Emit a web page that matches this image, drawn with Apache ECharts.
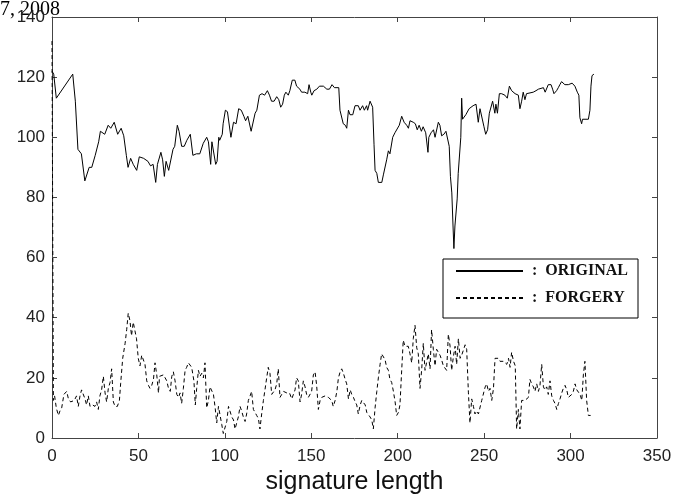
<!DOCTYPE html>
<html>
<head>
<meta charset="utf-8">
<script src="https://cdn.jsdelivr.net/npm/echarts@6/dist/echarts.min.js"></script>
<style>
  html, body { margin: 0; padding: 0; background: #fff; }
  #main { width: 687px; height: 497px; }
</style>
</head>
<body>
<div id="main"></div>
<script>
// values, [signature position, value]
var originalPts = [[0,122],[1,121],[2.5,113],[12,121],[13.5,112],[15,96],[17,94.5],[19,85.5],[20,85.5],[21.5,90],[23,90],[25,94],[27,98.5],[28,102],[30.5,101],[32.5,104],[34,103],[36,105],[38,101],[40,103],[41.5,100.5],[43,94],[44,90],[45.5,93],[47,91],[49,89],[50.5,93.5],[53,93],[55.5,92],[57,90.5],[58.5,91],[60,85],[61,91],[63,95],[64,92.5],[65,87],[66,92],[67.5,89],[68.5,89],[70,96],[71,97],[72.5,104],[73.5,102],[75,97],[76.5,97],[78,99],[80,101],[81.5,94],[83.5,94.5],[85.5,94.5],[86.5,94],[87.5,98],[89.5,100],[90.5,98.5],[91.8,91],[92.5,98.5],[93.5,98.5],[94.7,91],[95.5,92],[96.5,100],[97,99],[98.5,101],[99,104.5],[100.3,109],[101.5,108.5],[103.5,100],[105,105],[106.5,104.5],[108,109.5],[109.5,109],[111,107],[112,105.5],[113.3,107],[114,107],[115.2,102],[116.2,102.5],[117.5,108],[118.5,109],[120,114],[121.5,114.5],[123,114],[124.6,115.5],[125.8,114],[127,112],[128.5,112],[130,113.5],[131.2,112.5],[132.3,110],[133.4,111],[134.4,114],[135.3,115],[136.7,114],[137.6,115.5],[139,119],[140.5,119],[141.5,117],[143.4,116],[144.4,115],[146.3,115],[147.9,114.5],[148.7,117.5],[149.7,115],[150.3,114],[151.6,115.5],[153.2,116],[154.7,117],[157,117],[159,116],[160.5,116],[162,117.5],[163.4,116.5],[165.9,116.5],[166.6,109],[167.6,108.5],[168.5,104.5],[169.7,104],[170.5,103],[171.5,109],[172.4,107.5],[174,107.5],[175.3,110.5],[177.2,110.5],[178.2,109],[179.7,110.5],[180.7,109],[182,110.5],[182.6,109],[184,112],[185.5,110],[186.3,97.5],[186.9,89],[187.9,88],[188.8,85],[190.8,85],[191.7,87.5],[192.6,88],[193.6,92.5],[194.6,95.5],[195.5,94.5],[197.1,100],[198.4,101.5],[199.4,102],[200.9,104],[202.3,107],[203.7,105],[205.2,104],[206.2,103],[207.1,105.5],[209,105],[210.2,104.5],[211.3,102.5],[212.4,104],[213.7,102],[214.7,103.5],[216.2,101.5],[217,101.5],[217.5,95],[218,100],[219.3,101.5],[220.7,102.5],[221.6,100],[223.5,105],[224.4,104],[225.4,100.5],[226.7,101],[227.9,102],[228.8,101.5],[229.8,97],[230.5,87],[231.3,81.5],[232,70.5],[232.5,63],[233.1,70.5],[234,71],[234.4,79.5],[235,88],[236,88],[236.5,100],[237,113],[237.5,106],[238.4,106.5],[239.4,107.5],[241.3,109.5],[243.6,110.5],[245.3,111],[246.6,105],[247.6,109.5],[248.6,109],[249.9,103.5],[250.9,101],[252,102.5],[253,108],[253.9,108.5],[254.9,112],[256.2,108],[256.8,111],[257.7,108],[258.8,114.5],[260.1,114.5],[262,114],[263.4,113],[264.6,117],[265.9,115.5],[266.9,115],[267.9,114.5],[268.8,115],[269.8,114],[270.7,109.5],[271.7,112],[272.6,115],[273.6,112.5],[274.5,114.5],[275.5,115],[278.4,115],[280,115.5],[281.4,116],[282.3,116.5],[284.3,116.5],[285.3,115],[286.2,114.5],[287.1,117.5],[288.7,117.5],[289.6,116],[290.4,114.5],[291.9,115.5],[292.9,116.5],[293.8,117.5],[294.8,118.5],[295.8,119],[296.7,117.5],[297.7,117],[298.7,117.5],[299.6,117],[300.9,118],[302.5,117],[303.9,115],[304.8,114],[305.4,106.5],[306.4,104.5],[306.9,106],[310.3,106],[311.2,109],[311.8,117],[312.4,120.5],[313.5,121]];

var forgeryPts = [[0,132],[0.8,12.5],[1.5,14],[2.5,10],[3.7,7.5],[4.6,9],[5.6,10],[6.9,14.5],[8.5,15.5],[9.5,13],[10.8,12],[11.9,11.5],[12.9,12.5],[14.2,14],[15.2,10.5],[16.2,14],[17.1,16],[18.1,16.5],[19.1,13],[20,11],[21,14],[22,10.5],[23.5,11],[24.8,10.5],[25.8,12],[26.8,9.5],[27.7,14],[28.7,16],[29.7,20.5],[30.7,15],[31.6,12],[32.6,16.5],[33.6,18.5],[34.5,23],[35.5,12],[36.5,10.5],[37.8,10.5],[39,12.5],[39.7,18],[40.9,26.5],[42.3,31.5],[43.2,36],[44.1,41.5],[45.1,39],[46,34],[47,38.5],[48,38],[48.9,33],[49.9,26.5],[50.9,24],[51.9,27.5],[52.9,27.5],[53.8,24.5],[54.8,19],[55.8,17.5],[56.7,16.5],[57.7,17.5],[58.7,19.5],[59.6,25],[60.6,21],[61.6,15],[62.2,20.5],[63.2,20],[64.5,21],[65.5,21.5],[66.4,19],[67.4,16.5],[68.4,15.5],[69.3,20.5],[70.2,22],[71.2,19],[72.2,14.5],[73.2,13.5],[74.1,15],[75,11.5],[76,16.5],[77,22.5],[77.9,23.5],[78.9,25],[79.8,25],[80.8,23.5],[82.1,19],[82.9,11],[83.7,16.5],[84.7,22.5],[85.6,20.5],[86.6,21.5],[87.6,20],[88.5,25],[89.5,10],[90.5,12.5],[91.4,17],[92.4,17.5],[93.4,14.5],[94.4,10],[95.3,5],[96.3,10.5],[97.3,10],[98.2,4.5],[99.1,1.5],[100.2,1],[101.1,5.5],[102.1,10.5],[103,10.5],[104,7],[105,6],[105.9,3],[106.8,3],[107.8,7],[108.8,10.5],[109.7,9],[110.7,7],[111.7,5.5],[112.6,8],[113.6,12.5],[114.6,14],[115.5,15.5],[116.5,9.5],[117.5,8.5],[118.4,7.5],[119.4,6.5],[120.3,3],[121.3,8],[122.3,12.5],[123.2,16],[124.2,20],[125.1,23.5],[126.1,21.5],[127.1,14.5],[128,14],[129,16],[130,18],[130.9,23],[131.9,13.5],[132.9,14.5],[133.9,15.5],[134.8,15],[135.8,15],[137.4,15],[138.7,13],[139.6,13],[140.6,16],[141.5,20],[142.5,19],[143.5,12],[144.4,14.5],[145.4,19],[146.4,17],[147.3,14.5],[148.3,13.5],[149.3,13],[150.2,15.5],[151.2,21],[152.2,22],[153.1,17.5],[154.1,9.5],[155.1,12.5],[156,13.5],[157,13.5],[158,14],[159,13.5],[159.9,13.5],[160.9,13],[161.8,12.5],[162.7,10.5],[163.8,12.5],[164.8,15.5],[165.7,20],[166.7,22],[167.6,23],[168.6,21.5],[169.6,19.5],[170.5,18],[171.5,13],[172.5,16],[173.4,14.5],[174.4,13.5],[175.4,12],[176.3,11],[177.2,8],[178.3,11],[179.2,12.5],[180.2,12],[181.2,11],[182.1,8.5],[183.1,8],[184,7],[185,6],[185.9,3],[186.9,10],[187.9,15.5],[188.8,20],[189.8,24.5],[190.7,28],[191.7,27.5],[192.7,26],[193.6,23.5],[194.6,22.5],[195.5,19.5],[196.5,18.5],[197.5,15.5],[198.5,12],[199.4,7.5],[200.4,8.5],[201.3,11],[202.3,22.5],[203.2,32.5],[204.2,30.5],[205.2,30],[206.1,30.5],[207.1,28],[208.1,25],[209,33],[210,37.5],[211,30],[211.9,28],[212.9,16.5],[213.9,23],[214.8,31.5],[215.8,22.5],[216.8,22],[217.7,28],[218.7,23],[219.6,36],[220.6,29.5],[221.6,24],[222.5,29.5],[223.5,28.5],[224.5,27.5],[225.4,26],[226.4,24],[227.4,23.5],[228.3,22.5],[229.3,34.5],[230.3,30.5],[231.2,22.5],[232.2,27],[233.2,30.5],[234.1,24.5],[235.1,33],[236.1,26.5],[237,27.5],[238,27],[239,31],[239.9,29.5],[240.9,15],[241.8,5],[242.8,13],[243.8,10.5],[244.7,8],[245.7,9],[246.7,8],[247.6,8],[248.6,12.5],[249.6,12.5],[250.6,17],[251.5,18],[252.5,15.5],[253.4,16.5],[254.4,12.5],[255.4,16.5],[256.3,26.5],[257.3,26],[258.3,26.5],[259.2,25.5],[260.2,25],[261.2,25.5],[262.1,25.5],[263.1,24.5],[264.1,26.5],[265,23.5],[265.9,28.5],[267,25.5],[268,24],[268.8,3],[269.8,9.5],[270.7,3],[271.7,12.5],[272.7,12.5],[273.6,12.5],[274.6,13],[275.6,13.5],[276.5,19.5],[277.5,18],[278.5,17],[279.4,15.5],[280.4,18],[281.4,15.5],[282.3,17.5],[283.3,24.5],[284.3,17],[285.2,16],[286.2,17],[287.1,14.5],[288.1,19],[289.1,14],[290.1,12.5],[291,11.5],[292,9.5],[293,11.5],[293.9,13],[294.9,15],[295.8,16.5],[296.8,17.5],[297.8,16],[298.7,13.5],[299.7,13],[300.7,14.5],[301.6,15.5],[302.6,18],[303.6,16],[304.5,15.5],[305.5,14.5],[306.5,12.5],[307.4,21],[308.3,25.5],[309.3,12.5],[310.3,7.5],[311.6,7.5]];

var seriesNames = ['ORIGINAL', 'FORGERY'];
var xTicks = [0, 50, 100, 150, 200, 250, 300, 350];
var yTicks = [0, 20, 40, 60, 80, 100, 120, 140];

var myChart = echarts.init(document.getElementById('main'));

var axisFont = { fontFamily: 'Liberation Sans', fontSize: 17, color: '#222' };
var axisLine = { show: true, onZero: false, lineStyle: { color: '#444', width: 1 } };
var axisTick = { show: true, inside: true, length: 5, lineStyle: { color: '#444' } };

var option = {
    animation: false,
    backgroundColor: '#fff',
    graphic: [
        {
            type: 'text',
            left: 0,
            top: 0,
            style: { text: '7, 2008', fontFamily: 'Liberation Serif', fontSize: 20, fill: '#000' }
        }
    ],
    grid: { left: 52, right: 30, top: 17, bottom: 59, containLabel: false, outerBoundsMode: 'none' },
    legend: {
        orient: 'vertical',
        left: 443,
        top: 259,
        width: 192,
        padding: [4, 10, 12, 12],
        itemGap: 11,
        itemWidth: 67,
        itemHeight: 10,
        borderColor: '#000',
        borderWidth: 1,
        backgroundColor: '#fff',
        itemStyle: { opacity: 0 },
        data: seriesNames,
        formatter: function (name) { return ' :  ' + name; },
        textStyle: { fontFamily: 'Liberation Serif', fontSize: 16, fontWeight: 'bold', color: '#111' }
    },
    xAxis: [
        {
            type: 'value',
            min: xTicks[0],
            max: xTicks[xTicks.length - 1],
            interval: 50,
            name: 'signature length',
            nameLocation: 'middle',
            nameGap: 31,
            nameTextStyle: { fontFamily: 'Liberation Sans', fontSize: 25, color: '#111' },
            axisLine: axisLine,
            axisTick: axisTick,
            axisLabel: Object.assign({ margin: 10 }, axisFont),
            splitLine: { show: false }
        },
        {
            type: 'value',
            position: 'top',
            min: xTicks[0],
            max: xTicks[xTicks.length - 1],
            interval: 50,
            axisLine: axisLine,
            axisTick: axisTick,
            axisLabel: { show: false },
            splitLine: { show: false }
        }
    ],
    yAxis: [
        {
            type: 'value',
            min: yTicks[0],
            max: yTicks[yTicks.length - 1],
            interval: 20,
            axisLine: axisLine,
            axisTick: axisTick,
            axisLabel: Object.assign({ margin: 7 }, axisFont),
            splitLine: { show: false }
        },
        {
            type: 'value',
            position: 'right',
            min: yTicks[0],
            max: yTicks[yTicks.length - 1],
            interval: 20,
            axisLine: axisLine,
            axisTick: axisTick,
            axisLabel: { show: false },
            splitLine: { show: false }
        }
    ],
    series: [
        {
            name: seriesNames[0],
            type: 'line',
            symbol: 'none',
            color: '#000',
            lineStyle: { color: '#000', width: 1 },
            data: originalPts
        },
        {
            name: seriesNames[1],
            type: 'line',
            symbol: 'none',
            color: '#000',
            lineStyle: { color: '#000', width: 1, type: [4, 3] },
            data: forgeryPts
        }
    ]
};

myChart.setOption(option);
</script>
</body>
</html>
